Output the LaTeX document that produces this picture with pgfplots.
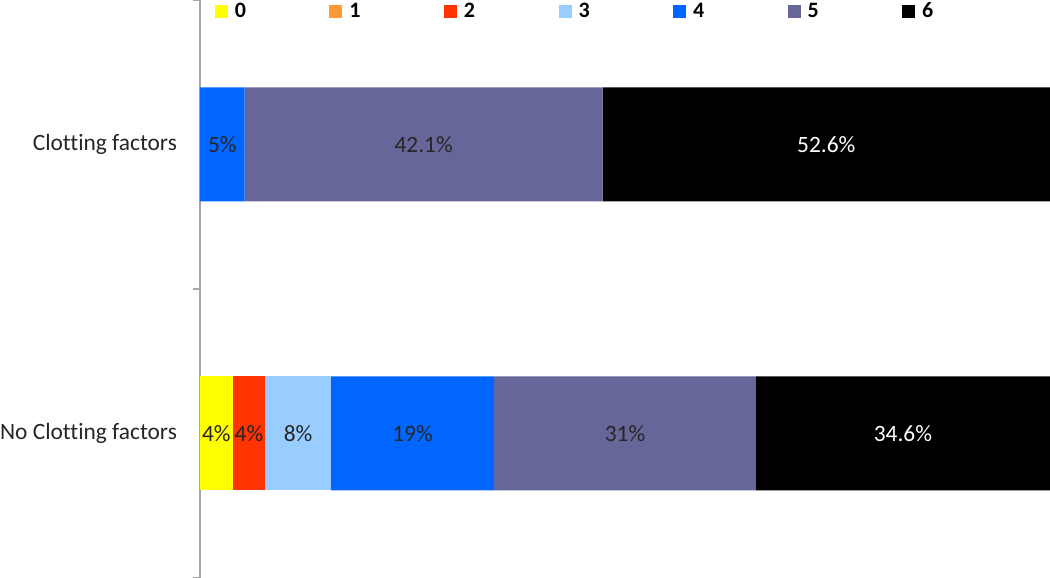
\documentclass[border=0pt]{standalone}
\usepackage{fontspec}
\setmainfont[Ligatures=NoCommon]{Carlito}
\usepackage{pgfplots}
\pgfplotsset{compat=1.18}
\definecolor{c0}{HTML}{FFFF00}
\definecolor{c1}{HTML}{FF9933}
\definecolor{c2}{HTML}{FF3300}
\definecolor{c3}{HTML}{99CCFF}
\definecolor{c4}{HTML}{0066FF}
\definecolor{c5}{HTML}{666699}
\definecolor{c6}{HTML}{000000}
\definecolor{axgray}{HTML}{A6A6A6}
\begin{document}
\begin{tikzpicture}
\begin{axis}[name=ax,
  xbar stacked, bar width=57pt,
  width=425pt, height=289pt, scale only axis,
  xmin=0, xmax=100, ymin=-0.5, ymax=1.5,
  axis x line=none, axis y line=left,
  y axis line style={-, draw=axgray, line width=0.8pt},
  ytick={-0.5,0.5,1.5}, yticklabels={},
  tick align=outside, major tick length=3.5pt,
  tick style={draw=axgray, line width=0.8pt},
  extra y ticks={0,1},
  extra y tick labels={No Clotting factors, Clotting factors},
  extra y tick style={major tick length=0pt, tick style={draw=none}},
  yticklabel style={font=\fontsize{11.7}{13}\selectfont, text=black!85, xshift=-8pt},
  legend columns=7,
  legend style={draw=none, fill=none, at={(0.01,1.01)}, anchor=north west,
    font=\bfseries\fontsize{11}{12}\selectfont,
    /tikz/every odd column/.append style={column sep=1.5pt},
    /tikz/every even column/.append style={column sep=39.7pt}},
  legend image code/.code={\fill[#1, draw=none] (0pt,-3.25pt) rectangle (6.5pt,3.25pt);},
]
\addplot[fill=c0, draw=none] coordinates {(3.846,0) (0,1)};
\addplot[fill=c1, draw=none] coordinates {(0,0) (0,1)};
\addplot[fill=c2, draw=none] coordinates {(3.846,0) (0,1)};
\addplot[fill=c3, draw=none] coordinates {(7.692,0) (0,1)};
\addplot[fill=c4, draw=none] coordinates {(19.231,0) (5.263,1)};
\addplot[fill=c5, draw=none] coordinates {(30.769,0) (42.105,1)};
\addplot[fill=c6, draw=none] coordinates {(34.615,0) (52.632,1)};
\legend{0,1,2,3,4,5,6}
\end{axis}
\begin{axis}[
  width=425pt, height=289pt, scale only axis,
  xmin=0, xmax=100, ymin=-0.5, ymax=1.5, hide axis,
  point meta=explicit symbolic,
  nodes near coords,
  every node near coord/.append style={anchor=center, inner sep=0pt, font=\fontsize{11.7}{13}\selectfont},
]
\addplot[draw=none, mark=none, nodes near coords, every node near coord/.append style={text=black!85}] coordinates {
  (1.923,0)[4\%] (5.769,0)[4\%] (11.538,0)[8\%] (25.0,0)[19\%] (50.0,0)[31\%]
  (2.632,1)[5\%] (26.316,1)[42.1\%]
};
\addplot[draw=none, mark=none, nodes near coords, every node near coord/.append style={text=white}] coordinates {
  (82.692,0)[34.6\%] (73.684,1)[52.6\%]
};
\end{axis}
\pgfresetboundingbox
\path[use as bounding box] (ax.south west) ++(-100pt,0pt) rectangle (ax.north east);
\end{tikzpicture}
\end{document}
